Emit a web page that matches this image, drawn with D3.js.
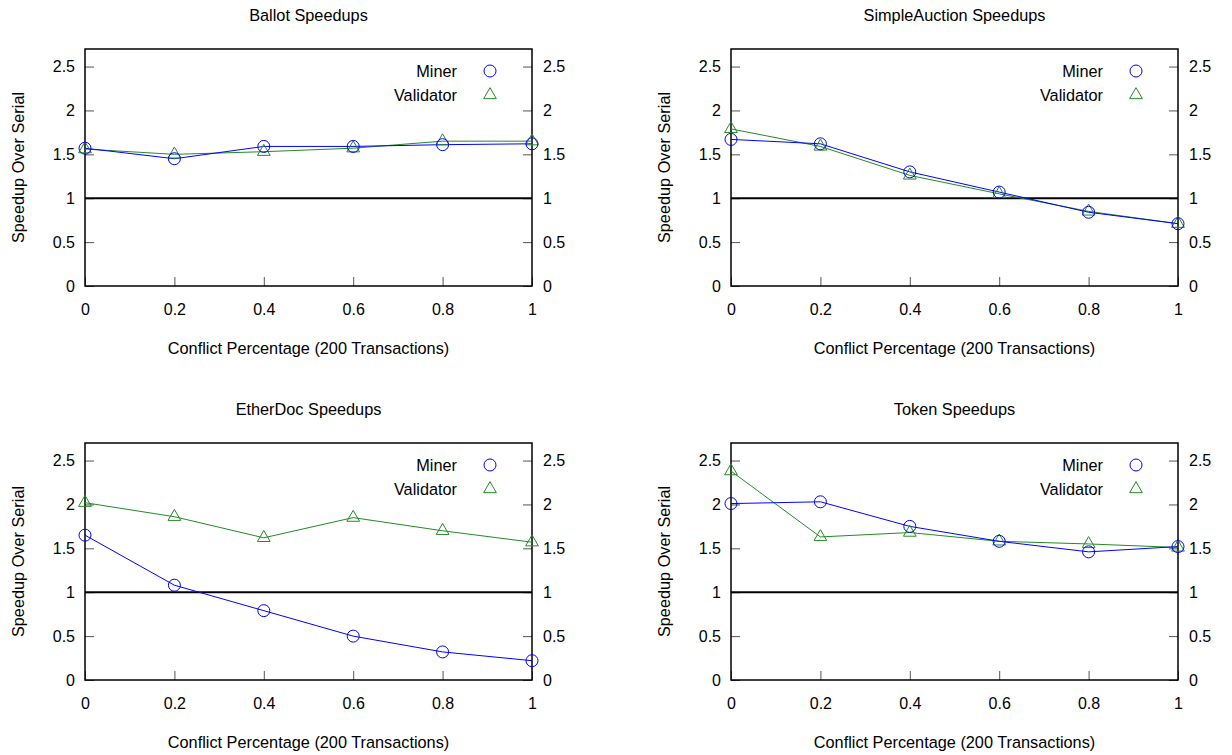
<!DOCTYPE html>
<html><head><meta charset="utf-8">
<script src="https://cdn.jsdelivr.net/npm/d3@7"></script>
<style>body{margin:0;background:#fff}text{font-family:"Liberation Sans",Arial,Helvetica,sans-serif}</style>
</head><body><svg id="c" width="1232" height="755"></svg>
<script>
const conflict = [0, 0.2, 0.4, 0.6, 0.8, 1];
const xTicks = [0, 0.2, 0.4, 0.6, 0.8, 1];
const yTicks = [0, 0.5, 1, 1.5, 2, 2.5];
const titles = ["Ballot Speedups", "SimpleAuction Speedups", "EtherDoc Speedups", "Token Speedups"];
const ballotMiner = [1.57, 1.45, 1.59, 1.59, 1.61, 1.62];
const ballotValidator = [1.56, 1.50, 1.53, 1.57, 1.65, 1.65];
const auctionMiner = [1.67, 1.62, 1.30, 1.07, 0.84, 0.71];
const auctionValidator = [1.79, 1.59, 1.26, 1.05, 0.85, 0.71];
const etherMiner = [1.65, 1.08, 0.79, 0.50, 0.32, 0.22];
const etherValidator = [2.02, 1.86, 1.62, 1.85, 1.70, 1.57];
const tokenMiner = [2.01, 2.03, 1.75, 1.58, 1.46, 1.52];
const tokenValidator = [2.38, 1.63, 1.68, 1.58, 1.55, 1.51];
const seriesNames = ["Miner", "Validator"];
const baseline = 1;

const panels = [
  {title: titles[0], miner: ballotMiner, validator: ballotValidator, left: 85, top: 49},
  {title: titles[1], miner: auctionMiner, validator: auctionValidator, left: 731, top: 49},
  {title: titles[2], miner: etherMiner, validator: etherValidator, left: 85, top: 443},
  {title: titles[3], miner: tokenMiner, validator: tokenValidator, left: 731, top: 443}
];
const W = 447, H = 237;
const FS = 16.3, TFS = 16;
const blue = "#0000ff", green = "#228b22";
const svg = d3.select("#c");

panels.forEach(p => {
  const g = svg.append("g").attr("transform", `translate(${p.left},${p.top})`);
  const x = d3.scaleLinear().domain([0, 1]).range([0, W]);
  const y = d3.scaleLinear().domain([0, 2.7]).range([H, 0]);

  const tl = 9;
  const tickCol = "#555";
  g.append("g").call(d3.axisLeft(y).tickValues(yTicks).tickSize(-tl).tickFormat(d3.format("")))
    .call(a => a.select(".domain").remove())
    .call(a => a.selectAll("line").attr("stroke", tickCol))
    .call(a => a.selectAll("text").attr("x", -10).attr("font-size", TFS).attr("fill", "#000"));
  g.append("g").attr("transform", `translate(${W},0)`)
    .call(d3.axisRight(y).tickValues(yTicks).tickSize(-tl).tickFormat(d3.format("")))
    .call(a => a.select(".domain").remove())
    .call(a => a.selectAll("line").attr("stroke", tickCol))
    .call(a => a.selectAll("text").attr("x", 11).attr("font-size", TFS).attr("fill", "#000"));
  g.append("g").attr("transform", `translate(0,${H})`)
    .call(d3.axisBottom(x).tickValues(xTicks).tickSize(-tl).tickFormat(d3.format("")))
    .call(a => a.select(".domain").remove())
    .call(a => a.selectAll("line").attr("stroke", tickCol))
    .call(a => a.selectAll("text").attr("y", 18).attr("font-size", TFS).attr("fill", "#000"));

  g.append("rect").attr("width", W).attr("height", H).attr("fill", "none")
    .attr("stroke", "#000").attr("stroke-width", 1.5);

  g.append("line").attr("x1", 0).attr("x2", W).attr("y1", y(baseline)).attr("y2", y(baseline))
    .attr("stroke", "#000").attr("stroke-width", 2);

  const line = d3.line().x((d, i) => x(conflict[i])).y(d => y(d));
  g.append("path").datum(p.validator).attr("d", line).attr("fill", "none").attr("stroke", green).attr("stroke-width", 1);
  g.append("path").datum(p.miner).attr("d", line).attr("fill", "none").attr("stroke", blue).attr("stroke-width", 1);

  const tri = d3.symbol().type(d3.symbolTriangle).size(70);
  g.selectAll(".tri").data(p.validator).enter().append("path")
    .attr("d", tri).attr("transform", (d, i) => `translate(${x(conflict[i])},${y(d)})`)
    .attr("fill", "none").attr("stroke", green).attr("stroke-width", 1);
  g.selectAll(".circ").data(p.miner).enter().append("circle")
    .attr("cx", (d, i) => x(conflict[i])).attr("cy", d => y(d)).attr("r", 6)
    .attr("fill", "none").attr("stroke", blue).attr("stroke-width", 1);

  const lx = W - 42;
  g.append("text").attr("x", lx - 33).attr("y", 22).attr("dy", "0.35em").attr("text-anchor", "end")
    .attr("font-size", FS).text(seriesNames[0]);
  g.append("circle").attr("cx", lx).attr("cy", 22).attr("r", 6).attr("fill", "none").attr("stroke", blue);
  g.append("text").attr("x", lx - 33).attr("y", 46).attr("dy", "0.35em").attr("text-anchor", "end")
    .attr("font-size", FS).text(seriesNames[1]);
  g.append("path").attr("d", tri).attr("transform", `translate(${lx},46)`).attr("fill", "none").attr("stroke", green);

  g.append("text").attr("x", W / 2).attr("y", -34).attr("dy", "0.35em").attr("text-anchor", "middle").attr("font-size", FS).text(p.title);
  g.append("text").attr("x", W / 2).attr("y", H + 62).attr("dy", "0.35em").attr("text-anchor", "middle").attr("font-size", FS)
    .text("Conflict Percentage (200 Transactions)");
  g.append("text").attr("transform", `translate(-67,${H / 2}) rotate(-90)`).attr("dy", "0.35em").attr("text-anchor", "middle")
    .attr("font-size", FS).text("Speedup Over Serial");
});
</script></body></html>
